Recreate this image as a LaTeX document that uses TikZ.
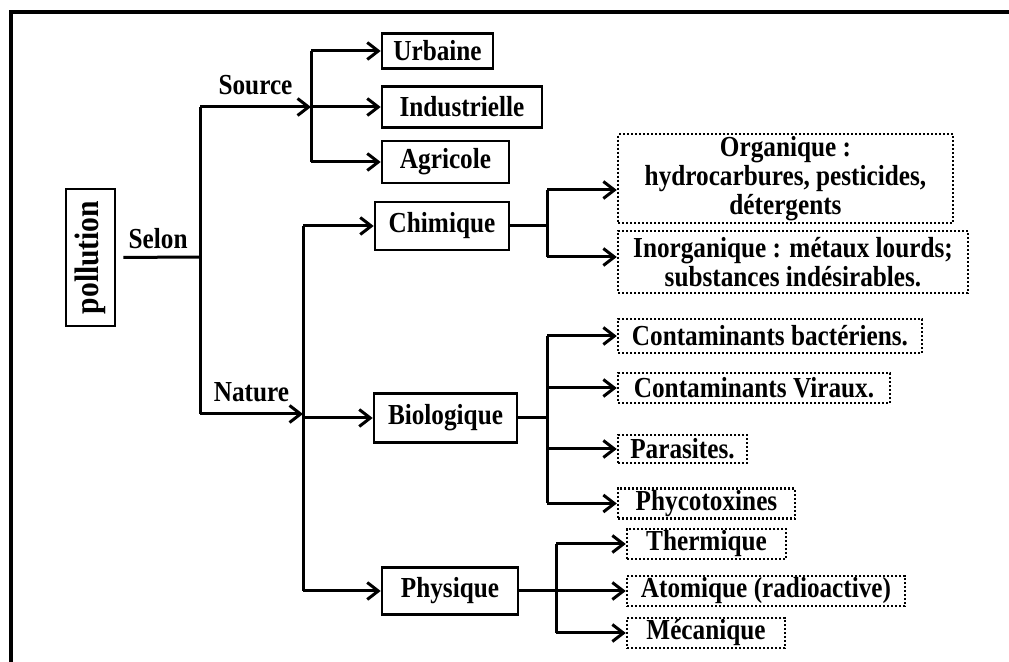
\documentclass[tikz,border=0pt]{standalone}
\usepackage{fontspec}
\setmainfont{Liberation Serif}[FakeStretch=0.87]
\usetikzlibrary{arrows.meta}

\tikzset{
  txt/.style={font=\bfseries\fontsize{14.5}{14.5}\selectfont},
  box/.style={draw,line width=1.3pt,inner sep=2pt,txt},
  dotbox/.style={draw,line width=1.2pt,dash pattern=on 1pt off 1pt,inner sep=1pt,align=center,txt},
  arr/.style={-{Straight Barb[length=5.5pt,width=8.5pt]}}
}

\begin{document}
\begin{tikzpicture}[x=0.5pt,y=-0.5pt,line width=1.5pt]
        \useasboundingbox (0,0) rectangle (1009,662);
        \draw[line width=2pt] (11,662) -- (11,12) -- (1009,12);

        \node[box,rotate=90,minimum width=68.5pt,minimum height=24.5pt,font=\bfseries\fontsize{17}{17}\selectfont] (pol) at (90.5,257.5) {pollution};

        \node[box,minimum width=55.5pt,minimum height=17.5pt] (urb) at (437.5,51) {Urbaine};
        \node[box,minimum width=80pt,minimum height=20.5pt] (ind) at (462,107) {Industrielle};
        \node[box,minimum width=63.5pt,minimum height=21pt] (agr) at (445.5,162) {Agricole};
        \node[box,minimum width=67pt,minimum height=24pt] (chi) at (442,226) {Chimique};
        \node[box,minimum width=71.5pt,minimum height=24.5pt] (bio) at (445.5,418) {Biologique};
        \node[box,minimum width=68pt,minimum height=23.5pt] (phy) at (450,591) {Physique};

        \node[dotbox,minimum width=167.5pt,minimum height=38.5pt] (org) at (785.5,178.5) {Organique :\\hydrocarbures, pesticides,\\détergents};
        \node[dotbox,minimum width=175pt,minimum height=31pt] (ino) at (793,262) {Inorganique : métaux lourds;\\substances indésirables.};
        \node[dotbox,minimum width=152pt,minimum height=17pt] (bac) at (770,336) {Contaminants bactériens.};
        \node[dotbox,minimum width=136pt,minimum height=15pt] (vir) at (754,388) {Contaminants Viraux.};
        \node[dotbox,minimum width=64.5pt,minimum height=14pt] (par) at (682.5,449) {Parasites.};
        \node[dotbox,minimum width=88.5pt,minimum height=14.5pt] (phc) at (706.5,503.5) {Phycotoxines};
        \node[dotbox,minimum width=79.5pt,minimum height=14pt] (the) at (706.5,544) {Thermique};
        \node[dotbox,minimum width=139pt,minimum height=14.5pt] (ato) at (766,591) {Atomique (radioactive)};
        \node[dotbox,minimum width=79pt,minimum height=14pt] (mec) at (706,633) {Mécanique};

        \coordinate (sel) at (200,257);
        \coordinate (src) at (200,107);
        \coordinate (nat) at (200,414);
        \coordinate (sf) at (311,107);
        \coordinate (nf) at (303,414);
        \coordinate (cf) at (547,226);
        \coordinate (o1) at (547,190);
        \coordinate (o2) at (547,257);
        \coordinate (bf) at (547,418);
        \coordinate (pf) at (556,591);

        \draw[shorten <=3.5pt] (pol.south) -- (sel) node[midway,above,txt]{Selon};
        \draw (src) -- (nat);
        \draw[arr] (src) -- (sf) node[midway,above=2pt,txt]{Source};
        \draw[arr] (nat) -- (nf) node[midway,above=2pt,txt]{Nature};

        \draw (sf |- urb) -- (sf |- agr);
        \foreach \n in {urb,ind,agr}
          \draw[arr] (sf |- \n) -- (\n);

        \draw (nf |- chi) -- (nf |- phy);
        \foreach \n in {chi,bio,phy}
          \draw[arr] (nf |- \n) -- (\n);

        \draw (chi) -- (cf);
        \draw (o1) -- (o2);
        \draw[arr] (o1) -- (o1 -| org.west);
        \draw[arr] (o2) -- (o2 -| ino.west);

        \draw (bio) -- (bf);
        \draw (bf |- bac) -- (bf |- phc);
        \foreach \n in {bac,vir,par,phc}
          \draw[arr] (bf |- \n) -- (\n);

        \draw (phy) -- (pf);
        \draw (pf |- the) -- (pf |- mec);
        \foreach \n in {the,ato,mec}
          \draw[arr] (pf |- \n) -- (\n);
      \end{tikzpicture}
\end{document}
